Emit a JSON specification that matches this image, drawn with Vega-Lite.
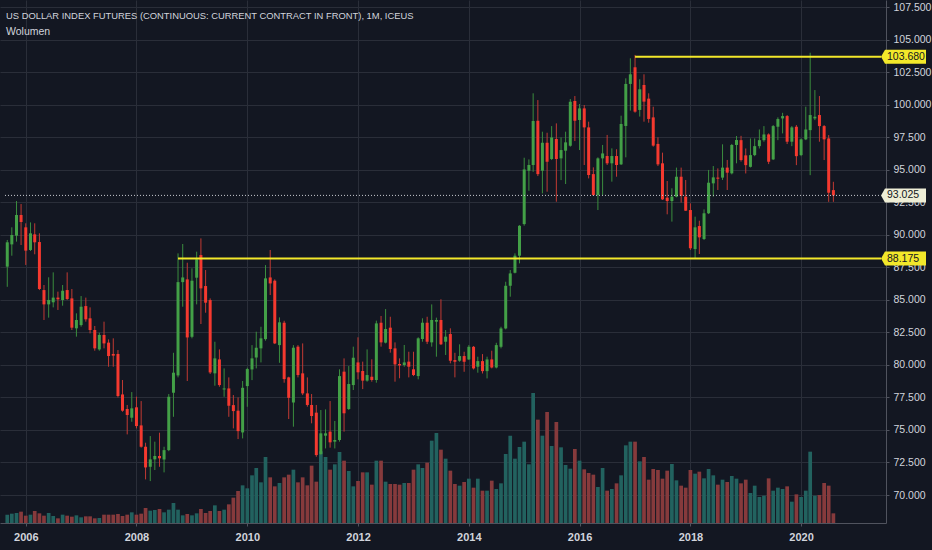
{
  "$schema": "https://vega.github.io/schema/vega-lite/v6.json",
  "width": 886,
  "height": 523,
  "autosize": {"type": "none"},
  "padding": {"left": 0, "top": 0, "right": 46, "bottom": 27},
  "background": "#131722",
  "config": {"view": {"stroke": null}},
  "title": {
    "text": "US DOLLAR INDEX FUTURES (CONTINUOUS: CURRENT CONTRACT IN FRONT), 1M, ICEUS",
    "subtitle": "Wolumen",
    "anchor": "start",
    "frame": "group",
    "orient": "top",
    "offset": -38,
    "dx": 6,
    "font": "Liberation Sans",
    "fontSize": 9.4,
    "fontWeight": "normal",
    "color": "#d1d4dc",
    "subtitleFont": "Liberation Sans",
    "subtitleFontSize": 10.5,
    "subtitleColor": "#d1d4dc",
    "subtitlePadding": 5
  },
  "datasets": {
    "candles": [
{"d":"2005-09-01","o":87.55,"h":89.6,"l":86.0,"c":89.42,"v":50},
{"d":"2005-10-01","o":89.26,"h":90.57,"l":88.39,"c":89.98,"v":56},
{"d":"2005-11-01","o":89.93,"h":92.59,"l":89.47,"c":91.52,"v":60},
{"d":"2005-12-01","o":91.52,"h":92.36,"l":89.21,"c":90.98,"v":68},
{"d":"2006-01-01","o":90.57,"h":90.88,"l":87.68,"c":88.78,"v":44},
{"d":"2006-02-01","o":88.83,"h":90.95,"l":88.75,"c":90.11,"v":50},
{"d":"2006-03-01","o":90.03,"h":90.88,"l":88.5,"c":89.42,"v":72},
{"d":"2006-04-01","o":89.44,"h":90.11,"l":85.75,"c":85.83,"v":58},
{"d":"2006-05-01","o":85.75,"h":86.14,"l":83.45,"c":84.65,"v":44},
{"d":"2006-06-01","o":84.65,"h":86.73,"l":83.63,"c":84.99,"v":60},
{"d":"2006-07-01","o":84.81,"h":87.11,"l":84.42,"c":85.17,"v":42},
{"d":"2006-08-01","o":85.17,"h":85.63,"l":84.22,"c":85.04,"v":28},
{"d":"2006-09-01","o":84.99,"h":86.14,"l":84.55,"c":85.7,"v":50},
{"d":"2006-10-01","o":85.75,"h":87.11,"l":84.99,"c":85.06,"v":44},
{"d":"2006-11-01","o":85.11,"h":85.83,"l":82.68,"c":82.86,"v":38},
{"d":"2006-12-01","o":82.81,"h":83.96,"l":82.17,"c":83.45,"v":46},
{"d":"2007-01-01","o":83.06,"h":85.29,"l":82.94,"c":84.47,"v":34},
{"d":"2007-02-01","o":84.52,"h":85.17,"l":83.32,"c":83.5,"v":40},
{"d":"2007-03-01","o":83.58,"h":84.42,"l":82.42,"c":82.68,"v":40},
{"d":"2007-04-01","o":82.68,"h":82.99,"l":81.09,"c":81.27,"v":28},
{"d":"2007-05-01","o":81.19,"h":82.47,"l":81.09,"c":82.3,"v":30},
{"d":"2007-06-01","o":82.3,"h":83.32,"l":81.27,"c":81.65,"v":50},
{"d":"2007-07-01","o":81.71,"h":81.96,"l":79.86,"c":80.68,"v":50},
{"d":"2007-08-01","o":80.84,"h":82.04,"l":79.86,"c":80.71,"v":50},
{"d":"2007-09-01","o":80.84,"h":81.14,"l":77.5,"c":77.61,"v":54},
{"d":"2007-10-01","o":77.73,"h":78.84,"l":76.4,"c":76.48,"v":42},
{"d":"2007-11-01","o":76.61,"h":76.92,"l":74.66,"c":76.15,"v":50},
{"d":"2007-12-01","o":75.94,"h":77.91,"l":75.63,"c":76.66,"v":64},
{"d":"2008-01-01","o":76.74,"h":77.56,"l":75.12,"c":75.3,"v":50},
{"d":"2008-02-01","o":75.35,"h":77.22,"l":73.64,"c":73.71,"v":56},
{"d":"2008-03-01","o":73.71,"h":74.02,"l":71.2,"c":72.12,"v":90},
{"d":"2008-04-01","o":72.17,"h":74.53,"l":71.07,"c":72.74,"v":74},
{"d":"2008-05-01","o":72.74,"h":74.1,"l":71.92,"c":73.0,"v":78},
{"d":"2008-06-01","o":73.0,"h":74.79,"l":72.17,"c":72.82,"v":84},
{"d":"2008-07-01","o":72.73,"h":73.71,"l":71.74,"c":73.45,"v":64},
{"d":"2008-08-01","o":73.45,"h":77.76,"l":73.37,"c":77.55,"v":80},
{"d":"2008-09-01","o":77.86,"h":80.93,"l":76.01,"c":79.4,"v":120},
{"d":"2008-10-01","o":79.19,"h":88.57,"l":79.04,"c":86.36,"v":80},
{"d":"2008-11-01","o":86.36,"h":89.29,"l":84.47,"c":86.72,"v":46},
{"d":"2008-12-01","o":86.57,"h":87.85,"l":78.76,"c":82.11,"v":54},
{"d":"2009-01-01","o":82.16,"h":87.42,"l":82.04,"c":86.47,"v":46},
{"d":"2009-02-01","o":86.7,"h":88.7,"l":84.65,"c":88.11,"v":58},
{"d":"2009-03-01","o":88.44,"h":89.72,"l":83.14,"c":85.88,"v":84},
{"d":"2009-04-01","o":86.06,"h":87.29,"l":84.01,"c":84.78,"v":60},
{"d":"2009-05-01","o":84.98,"h":85.11,"l":79.3,"c":79.42,"v":72},
{"d":"2009-06-01","o":79.35,"h":81.78,"l":78.4,"c":80.5,"v":106},
{"d":"2009-07-01","o":80.42,"h":81.19,"l":78.32,"c":78.45,"v":72},
{"d":"2009-08-01","o":78.11,"h":79.73,"l":77.55,"c":78.19,"v":80},
{"d":"2009-09-01","o":78.19,"h":79.04,"l":76.01,"c":76.86,"v":112},
{"d":"2009-10-01","o":76.91,"h":77.68,"l":75.12,"c":76.45,"v":152},
{"d":"2009-11-01","o":76.48,"h":77.5,"l":74.3,"c":74.91,"v":192},
{"d":"2009-12-01","o":74.81,"h":78.76,"l":74.35,"c":78.24,"v":226},
{"d":"2010-01-01","o":78.37,"h":79.78,"l":76.78,"c":79.68,"v":208},
{"d":"2010-02-01","o":79.65,"h":81.52,"l":78.83,"c":80.5,"v":286},
{"d":"2010-03-01","o":80.57,"h":82.55,"l":79.73,"c":81.32,"v":330},
{"d":"2010-04-01","o":81.27,"h":82.93,"l":80.19,"c":82.04,"v":244},
{"d":"2010-05-01","o":81.98,"h":87.67,"l":81.86,"c":86.65,"v":396},
{"d":"2010-06-01","o":86.72,"h":88.83,"l":85.37,"c":86.26,"v":274},
{"d":"2010-07-01","o":86.47,"h":86.57,"l":81.6,"c":81.65,"v":220},
{"d":"2010-08-01","o":81.52,"h":83.65,"l":80.16,"c":83.27,"v":240},
{"d":"2010-09-01","o":83.24,"h":83.39,"l":78.63,"c":78.91,"v":274},
{"d":"2010-10-01","o":79.04,"h":79.09,"l":75.84,"c":77.47,"v":290},
{"d":"2010-11-01","o":77.11,"h":81.52,"l":75.25,"c":81.32,"v":320},
{"d":"2010-12-01","o":81.4,"h":81.52,"l":79.04,"c":79.22,"v":244},
{"d":"2011-01-01","o":79.35,"h":81.65,"l":77.68,"c":77.81,"v":274},
{"d":"2011-02-01","o":77.81,"h":79.04,"l":76.79,"c":76.92,"v":226},
{"d":"2011-03-01","o":76.92,"h":77.76,"l":75.51,"c":76.07,"v":344},
{"d":"2011-04-01","o":76.33,"h":76.92,"l":72.94,"c":73.07,"v":248},
{"d":"2011-05-01","o":73.15,"h":76.53,"l":73.07,"c":74.74,"v":430},
{"d":"2011-06-01","o":74.56,"h":76.58,"l":73.58,"c":74.74,"v":396},
{"d":"2011-07-01","o":74.87,"h":77.22,"l":73.64,"c":74.05,"v":320},
{"d":"2011-08-01","o":74.1,"h":75.69,"l":73.58,"c":74.23,"v":352},
{"d":"2011-09-01","o":74.23,"h":79.66,"l":74.1,"c":79.14,"v":426},
{"d":"2011-10-01","o":79.48,"h":80.5,"l":74.87,"c":76.28,"v":374},
{"d":"2011-11-01","o":76.61,"h":79.91,"l":76.53,"c":78.53,"v":312},
{"d":"2011-12-01","o":78.45,"h":81.4,"l":78.07,"c":80.55,"v":220},
{"d":"2012-01-01","o":80.19,"h":82.12,"l":78.89,"c":79.43,"v":252},
{"d":"2012-02-01","o":79.53,"h":80.25,"l":78.14,"c":78.79,"v":304},
{"d":"2012-03-01","o":78.79,"h":81.19,"l":78.71,"c":79.22,"v":304},
{"d":"2012-04-01","o":79.09,"h":80.43,"l":78.71,"c":78.84,"v":230},
{"d":"2012-05-01","o":78.84,"h":83.4,"l":78.63,"c":83.19,"v":374},
{"d":"2012-06-01","o":83.24,"h":83.76,"l":81.4,"c":81.73,"v":374},
{"d":"2012-07-01","o":81.71,"h":84.29,"l":81.65,"c":82.76,"v":248},
{"d":"2012-08-01","o":82.86,"h":83.7,"l":80.94,"c":81.22,"v":234},
{"d":"2012-09-01","o":81.27,"h":81.73,"l":78.71,"c":80.04,"v":234},
{"d":"2012-10-01","o":80.07,"h":80.5,"l":78.97,"c":79.96,"v":230},
{"d":"2012-11-01","o":79.99,"h":81.53,"l":79.86,"c":80.19,"v":240},
{"d":"2012-12-01","o":80.25,"h":81.01,"l":79.04,"c":79.86,"v":240},
{"d":"2013-01-01","o":79.66,"h":81.01,"l":79.14,"c":79.22,"v":320},
{"d":"2013-02-01","o":79.14,"h":82.12,"l":78.89,"c":82.04,"v":352},
{"d":"2013-03-01","o":81.99,"h":83.58,"l":81.78,"c":83.24,"v":330},
{"d":"2013-04-01","o":83.24,"h":83.7,"l":81.6,"c":81.78,"v":362},
{"d":"2013-05-01","o":81.73,"h":84.65,"l":81.4,"c":83.45,"v":494},
{"d":"2013-06-01","o":83.32,"h":83.63,"l":80.63,"c":83.45,"v":540},
{"d":"2013-07-01","o":83.45,"h":85.04,"l":81.53,"c":81.58,"v":440},
{"d":"2013-08-01","o":81.78,"h":82.68,"l":80.76,"c":82.17,"v":386},
{"d":"2013-09-01","o":82.37,"h":82.81,"l":80.12,"c":80.32,"v":314},
{"d":"2013-10-01","o":80.37,"h":80.93,"l":79.04,"c":80.24,"v":234},
{"d":"2013-11-01","o":80.32,"h":81.58,"l":80.24,"c":80.68,"v":224},
{"d":"2013-12-01","o":80.68,"h":81.01,"l":79.47,"c":80.24,"v":246},
{"d":"2014-01-01","o":80.42,"h":81.52,"l":80.37,"c":81.39,"v":266},
{"d":"2014-02-01","o":81.39,"h":81.45,"l":79.65,"c":79.73,"v":212},
{"d":"2014-03-01","o":79.86,"h":80.63,"l":79.4,"c":80.29,"v":266},
{"d":"2014-04-01","o":80.29,"h":80.83,"l":79.34,"c":79.52,"v":194},
{"d":"2014-05-01","o":79.52,"h":80.63,"l":78.96,"c":80.42,"v":194},
{"d":"2014-06-01","o":80.42,"h":81.09,"l":79.73,"c":79.8,"v":254},
{"d":"2014-07-01","o":79.8,"h":81.7,"l":79.73,"c":81.52,"v":204},
{"d":"2014-08-01","o":81.39,"h":82.93,"l":81.27,"c":82.8,"v":238},
{"d":"2014-09-01","o":82.8,"h":86.39,"l":82.73,"c":86.08,"v":414},
{"d":"2014-10-01","o":86.08,"h":87.29,"l":85.24,"c":87.03,"v":524},
{"d":"2014-11-01","o":87.08,"h":88.57,"l":87.03,"c":88.39,"v":386},
{"d":"2014-12-01","o":88.39,"h":90.74,"l":87.8,"c":90.69,"v":456},
{"d":"2015-01-01","o":90.82,"h":95.92,"l":90.7,"c":95.02,"v":488},
{"d":"2015-02-01","o":94.92,"h":95.79,"l":93.38,"c":95.36,"v":352},
{"d":"2015-03-01","o":95.36,"h":100.87,"l":94.84,"c":98.74,"v":780},
{"d":"2015-04-01","o":98.76,"h":100.35,"l":94.51,"c":94.66,"v":620},
{"d":"2015-05-01","o":94.92,"h":97.92,"l":93.18,"c":97.07,"v":524},
{"d":"2015-06-01","o":97.07,"h":97.84,"l":93.31,"c":95.61,"v":666},
{"d":"2015-07-01","o":95.82,"h":98.35,"l":95.74,"c":97.48,"v":462},
{"d":"2015-08-01","o":97.36,"h":98.56,"l":92.54,"c":95.82,"v":606},
{"d":"2015-09-01","o":95.87,"h":97.48,"l":94.2,"c":96.51,"v":454},
{"d":"2015-10-01","o":96.46,"h":97.92,"l":93.9,"c":97.1,"v":348},
{"d":"2015-11-01","o":96.84,"h":100.43,"l":96.77,"c":100.22,"v":326},
{"d":"2015-12-01","o":100.28,"h":100.66,"l":97.2,"c":98.76,"v":444},
{"d":"2016-01-01","o":98.82,"h":100.05,"l":96.51,"c":99.71,"v":374},
{"d":"2016-02-01","o":99.71,"h":99.97,"l":95.36,"c":98.25,"v":322},
{"d":"2016-03-01","o":98.25,"h":98.69,"l":94.33,"c":94.59,"v":300},
{"d":"2016-04-01","o":94.66,"h":95.18,"l":92.98,"c":93.05,"v":290},
{"d":"2016-05-01","o":93.05,"h":95.95,"l":91.9,"c":95.87,"v":216},
{"d":"2016-06-01","o":95.87,"h":96.9,"l":93.05,"c":96.25,"v":330},
{"d":"2016-07-01","o":96.05,"h":97.67,"l":95.36,"c":95.49,"v":194},
{"d":"2016-08-01","o":95.49,"h":96.64,"l":94.08,"c":96.05,"v":204},
{"d":"2016-09-01","o":96.05,"h":96.57,"l":94.46,"c":95.36,"v":238},
{"d":"2016-10-01","o":95.41,"h":99.15,"l":95.36,"c":98.51,"v":286},
{"d":"2016-11-01","o":98.36,"h":102.02,"l":95.95,"c":101.59,"v":466},
{"d":"2016-12-01","o":101.59,"h":103.56,"l":99.54,"c":102.33,"v":488},
{"d":"2017-01-01","o":102.87,"h":103.82,"l":99.38,"c":99.46,"v":488},
{"d":"2017-02-01","o":99.59,"h":101.95,"l":99.08,"c":101.18,"v":370},
{"d":"2017-03-01","o":101.51,"h":102.33,"l":98.69,"c":100.23,"v":396},
{"d":"2017-04-01","o":100.46,"h":100.87,"l":98.61,"c":98.9,"v":260},
{"d":"2017-05-01","o":99.02,"h":99.84,"l":96.77,"c":96.85,"v":324},
{"d":"2017-06-01","o":96.98,"h":97.49,"l":95.28,"c":95.41,"v":318},
{"d":"2017-07-01","o":95.49,"h":96.31,"l":92.67,"c":92.72,"v":266},
{"d":"2017-08-01","o":92.85,"h":94.13,"l":91.57,"c":92.59,"v":314},
{"d":"2017-09-01","o":92.59,"h":93.57,"l":91.01,"c":92.93,"v":354},
{"d":"2017-10-01","o":92.93,"h":95.16,"l":92.88,"c":94.46,"v":256},
{"d":"2017-11-01","o":94.46,"h":95.16,"l":92.47,"c":93.0,"v":224},
{"d":"2017-12-01","o":92.93,"h":94.21,"l":91.83,"c":91.85,"v":212},
{"d":"2018-01-01","o":91.9,"h":92.41,"l":88.83,"c":88.96,"v":318},
{"d":"2018-02-01","o":88.9,"h":91.39,"l":88.14,"c":90.57,"v":296},
{"d":"2018-03-01","o":90.67,"h":91.08,"l":88.52,"c":89.8,"v":308},
{"d":"2018-04-01","o":89.67,"h":91.95,"l":89.6,"c":91.65,"v":268},
{"d":"2018-05-01","o":91.65,"h":94.98,"l":91.59,"c":94.0,"v":324},
{"d":"2018-06-01","o":93.95,"h":95.28,"l":92.93,"c":94.41,"v":286},
{"d":"2018-07-01","o":94.39,"h":95.1,"l":93.44,"c":94.31,"v":230},
{"d":"2018-08-01","o":94.39,"h":96.95,"l":94.21,"c":95.16,"v":260},
{"d":"2018-09-01","o":95.16,"h":95.75,"l":93.44,"c":94.77,"v":246},
{"d":"2018-10-01","o":94.72,"h":96.98,"l":94.64,"c":96.9,"v":282},
{"d":"2018-11-01","o":96.9,"h":97.59,"l":95.49,"c":97.28,"v":266},
{"d":"2018-12-01","o":97.27,"h":97.6,"l":95.62,"c":95.74,"v":238},
{"d":"2019-01-01","o":96.1,"h":96.63,"l":94.71,"c":95.35,"v":260},
{"d":"2019-02-01","o":95.22,"h":97.4,"l":95.17,"c":96.12,"v":180},
{"d":"2019-03-01","o":96.12,"h":97.4,"l":96.04,"c":96.81,"v":224},
{"d":"2019-04-01","o":96.81,"h":98.09,"l":96.63,"c":97.27,"v":156},
{"d":"2019-05-01","o":97.27,"h":98.35,"l":97.15,"c":97.71,"v":164},
{"d":"2019-06-01","o":97.71,"h":97.79,"l":95.43,"c":95.61,"v":268},
{"d":"2019-07-01","o":95.79,"h":98.43,"l":95.74,"c":98.35,"v":194},
{"d":"2019-08-01","o":98.3,"h":99.02,"l":97.27,"c":98.89,"v":212},
{"d":"2019-09-01","o":98.94,"h":99.37,"l":97.79,"c":99.12,"v":204},
{"d":"2019-10-01","o":99.12,"h":99.2,"l":96.97,"c":97.15,"v":220},
{"d":"2019-11-01","o":97.15,"h":98.35,"l":96.81,"c":98.25,"v":128},
{"d":"2019-12-01","o":98.3,"h":98.43,"l":95.35,"c":96.04,"v":172},
{"d":"2020-01-01","o":96.12,"h":97.4,"l":96.04,"c":97.33,"v":156},
{"d":"2020-02-01","o":97.33,"h":99.84,"l":97.27,"c":98.09,"v":194},
{"d":"2020-03-01","o":98.04,"h":103.99,"l":94.58,"c":99.2,"v":428},
{"d":"2020-04-01","o":98.94,"h":101.12,"l":98.81,"c":99.07,"v":164},
{"d":"2020-05-01","o":99.2,"h":100.66,"l":97.15,"c":98.35,"v":168},
{"d":"2020-06-01","o":98.35,"h":98.43,"l":95.74,"c":97.33,"v":240},
{"d":"2020-07-01","o":97.4,"h":97.66,"l":92.53,"c":93.23,"v":224},
{"d":"2020-08-01","o":93.43,"h":94.07,"l":92.53,"c":93.025,"v":58}
    ],
    "levels": [
      {"d": "2017-01-01", "p": 103.68},
      {"d": "2008-10-01", "p": 88.175}
    ],
    "tags": [
      {"d": "2021-06-11", "p": 103.68, "lab": "103.680", "k": "lvl"},
      {"d": "2021-06-11", "p": 88.175, "lab": "88.175", "k": "lvl"},
      {"d": "2021-06-11", "p": 93.025, "lab": "93.025", "k": "last"}
    ]
  },
  "encoding": {
    "x": {
      "field": "d", "type": "temporal",
      "scale": {"type": "utc", "domain": [1124236800000, 1623369600000], "nice": false},
      "axis": {
        "orient": "bottom",
        "values": [1136073600000, 1199145600000, 1262304000000, 1325376000000, 1388534400000, 1451606400000, 1514764800000, 1577836800000],
        "format": "%Y", "title": null, "grid": true, "gridColor": "#2a2e39",
        "domainColor": "#50535e", "tickColor": "#50535e", "tickSize": 3,
        "labelPadding": 5, "labelColor": "#d1d4dc", "labelFont": "Liberation Sans", "labelFontSize": 11, "labelFontWeight": "bold"
      }
    }
  },
  "layer": [
    {
      "data": {"name": "candles"},
      "mark": {"type": "bar", "size": 3.7},
      "encoding": {
        "y": {"field": "v", "type": "quantitative", "scale": {"domain": [0, 3138], "nice": false, "zero": true}, "axis": null},
        "color": {"condition": {"test": "datum.c >= datum.o", "value": "#22625f"}, "value": "#863a3c"}
      }
    },
    {
      "layer": [
        {
          "data": {"name": "candles"},
          "mark": {"type": "rule", "strokeWidth": 1},
          "encoding": {
            "y": {
              "field": "l", "type": "quantitative",
              "scale": {"domain": [67.85, 108.04], "nice": false, "zero": false},
              "axis": {"orient": "right", "values": [70, 72.5, 75, 77.5, 80, 82.5, 85, 87.5, 90, 92.5, 95, 97.5, 100, 102.5, 105, 107.5], "format": ".3f", "title": null, "grid": true, "gridColor": "#2a2e39", "domainColor": "#50535e", "tickColor": "#50535e", "tickSize": 3, "labelPadding": 4, "labelColor": "#d1d4dc", "labelFont": "Liberation Sans", "labelFontSize": 10.5, "labelBaseline": "middle", "labelOverlap": false}
            },
            "y2": {"field": "h"},
            "color": {"condition": {"test": "datum.c >= datum.o", "value": "#3b8d3e"}, "value": "#c23a33"}
          }
        },
        {
          "data": {"name": "candles"},
          "mark": {"type": "bar", "size": 3},
          "encoding": {
            "y": {
              "field": "o", "type": "quantitative",
              "scale": {"domain": [67.85, 108.04], "nice": false, "zero": false},
              "axis": {"orient": "right", "values": [70, 72.5, 75, 77.5, 80, 82.5, 85, 87.5, 90, 92.5, 95, 97.5, 100, 102.5, 105, 107.5], "format": ".3f", "title": null, "grid": true, "gridColor": "#2a2e39", "domainColor": "#50535e", "tickColor": "#50535e", "tickSize": 3, "labelPadding": 4, "labelColor": "#d1d4dc", "labelFont": "Liberation Sans", "labelFontSize": 10.5, "labelBaseline": "middle", "labelOverlap": false}
            },
            "y2": {"field": "c"},
            "color": {"condition": {"test": "datum.c >= datum.o", "value": "#43a047"}, "value": "#f5392f"}
          }
        },
        {
          "data": {"name": "levels"},
          "mark": {"type": "rule", "color": "#f3e82a", "strokeWidth": 2},
          "encoding": {
            "x2": {"datum": 1623369600000},
            "y": {
              "field": "p", "type": "quantitative",
              "scale": {"domain": [67.85, 108.04], "nice": false, "zero": false},
              "axis": {"orient": "right", "values": [70, 72.5, 75, 77.5, 80, 82.5, 85, 87.5, 90, 92.5, 95, 97.5, 100, 102.5, 105, 107.5], "format": ".3f", "title": null, "grid": true, "gridColor": "#2a2e39", "domainColor": "#50535e", "tickColor": "#50535e", "tickSize": 3, "labelPadding": 4, "labelColor": "#d1d4dc", "labelFont": "Liberation Sans", "labelFontSize": 10.5, "labelBaseline": "middle", "labelOverlap": false}
            }
          }
        },
        {
          "data": {"values": [{"p": 93.025, "d": "2005-08-17"}]},
          "mark": {"type": "rule", "color": "#c8cad0", "strokeWidth": 1, "strokeDash": [1, 2]},
          "encoding": {
            "x2": {"datum": 1623369600000},
            "y": {
              "field": "p", "type": "quantitative",
              "scale": {"domain": [67.85, 108.04], "nice": false, "zero": false},
              "axis": {"orient": "right", "values": [70, 72.5, 75, 77.5, 80, 82.5, 85, 87.5, 90, 92.5, 95, 97.5, 100, 102.5, 105, 107.5], "format": ".3f", "title": null, "grid": true, "gridColor": "#2a2e39", "domainColor": "#50535e", "tickColor": "#50535e", "tickSize": 3, "labelPadding": 4, "labelColor": "#d1d4dc", "labelFont": "Liberation Sans", "labelFontSize": 10.5, "labelBaseline": "middle", "labelOverlap": false}
            }
          }
        },
        {
          "data": {"name": "tags"},
          "mark": {"type": "point", "shape": "M0,0L0.087,-0.152L0.978,-0.152L0.978,0.152L0.087,0.152Z", "size": 8464, "filled": true, "opacity": 1, "strokeWidth": 0},
          "encoding": {
            "y": {
              "field": "p", "type": "quantitative",
              "scale": {"domain": [67.85, 108.04], "nice": false, "zero": false},
              "axis": {"orient": "right", "values": [70, 72.5, 75, 77.5, 80, 82.5, 85, 87.5, 90, 92.5, 95, 97.5, 100, 102.5, 105, 107.5], "format": ".3f", "title": null, "grid": true, "gridColor": "#2a2e39", "domainColor": "#50535e", "tickColor": "#50535e", "tickSize": 3, "labelPadding": 4, "labelColor": "#d1d4dc", "labelFont": "Liberation Sans", "labelFontSize": 10.5, "labelBaseline": "middle", "labelOverlap": false}
            },
            "color": {"condition": {"test": "datum.k == 'lvl'", "value": "#f3e82a"}, "value": "#eeeed6"}
          }
        },
        {
          "data": {"name": "tags"},
          "mark": {"type": "text", "align": "left", "baseline": "middle", "dx": 6, "fontSize": 10.5, "font": "Liberation Sans", "color": "#131722"},
          "encoding": {
            "y": {
              "field": "p", "type": "quantitative",
              "scale": {"domain": [67.85, 108.04], "nice": false, "zero": false},
              "axis": {"orient": "right", "values": [70, 72.5, 75, 77.5, 80, 82.5, 85, 87.5, 90, 92.5, 95, 97.5, 100, 102.5, 105, 107.5], "format": ".3f", "title": null, "grid": true, "gridColor": "#2a2e39", "domainColor": "#50535e", "tickColor": "#50535e", "tickSize": 3, "labelPadding": 4, "labelColor": "#d1d4dc", "labelFont": "Liberation Sans", "labelFontSize": 10.5, "labelBaseline": "middle", "labelOverlap": false}
            },
            "text": {"field": "lab"}
          }
        }
      ]
    }
  ],
  "resolve": {"scale": {"y": "independent"}}
}
